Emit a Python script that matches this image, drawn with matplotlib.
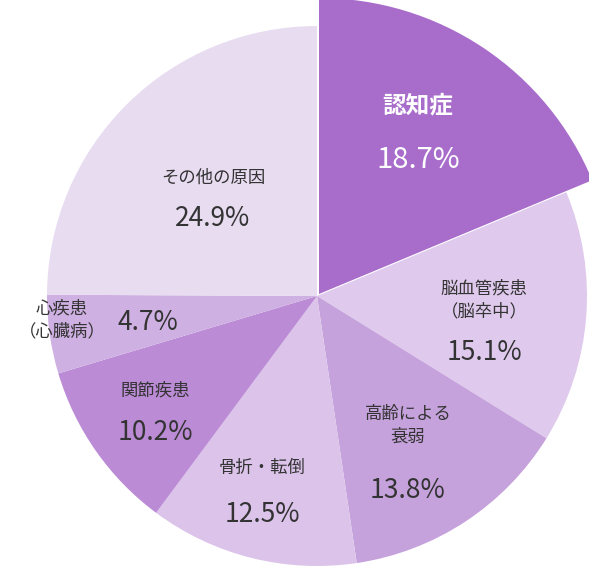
import matplotlib
matplotlib.use("Agg")
import matplotlib.pyplot as plt

categories = ["認知症", "脳血管疾患\n（脳卒中）", "高齢による\n衰弱", "骨折・転倒", "関節疾患", "心疾患\n（心臓病）", "その他の原因"]
values = [18.7, 15.1, 13.8, 12.5, 10.2, 4.7, 24.9]
colors = ["#a86dcb", "#dfcaed", "#c6a2dc", "#dbc3ea", "#bb8bd6", "#cfb0e2", "#e8dcf1"]

plt.rcParams['font.family'] = ['Noto Sans CJK JP', 'DejaVu Sans']
fig = plt.figure(figsize=(5.89, 5.68), dpi=100)
ax = fig.add_axes([0, 0, 1, 1])
ax.set_xlim(0, 589); ax.set_ylim(0, 568); ax.set_aspect('equal'); ax.axis('off')

cx, cy = 317, 272
fc = ['none'] + colors[1:]
ax.pie(values, colors=fc, startangle=90, counterclock=False, radius=270, center=(cx, cy),
       wedgeprops=dict(linewidth=0), frame=True)
fc2 = [colors[0]] + ['none'] * (len(values) - 1)
ax.pie(values, colors=fc2, startangle=90, counterclock=False, radius=296, center=(cx + 2, cy + 2),
       wedgeprops=dict(linewidth=0), frame=True)
ax.set_xlim(0, 589); ax.set_ylim(0, 568); ax.axis('off')

# label positions (pixel coords from top)
pos = [(418, 105, 160), (484, 300, 352), (408, 425, 490), (262, 468, 515),
       (155, 390, 433), (62, 320, None), (213, 178, 218)]
dark = "#333333"
for i, (cat, v) in enumerate(zip(categories, values)):
    x, yl, yv = pos[i]
    if i == 0:
        ax.text(x, 568 - yl, cat, ha='center', va='center', fontsize=17, fontweight='bold', color='white')
        ax.text(x, 568 - yv, f"{v}%", ha='center', va='center', fontsize=21, color='white')
    elif i == 5:
        ax.text(x, 568 - yl, cat, ha='center', va='center', fontsize=12.5, color=dark, linespacing=1.3)
        ax.text(148, 568 - 322, f"{v}%", ha='center', va='center', fontsize=19, color=dark)
    else:
        ax.text(x, 568 - yl, cat, ha='center', va='center', fontsize=12.5, color=dark, linespacing=1.3)
        ax.text(x, 568 - yv, f"{v}%", ha='center', va='center', fontsize=19, color=dark)

fig.savefig("out.png", dpi=100)
